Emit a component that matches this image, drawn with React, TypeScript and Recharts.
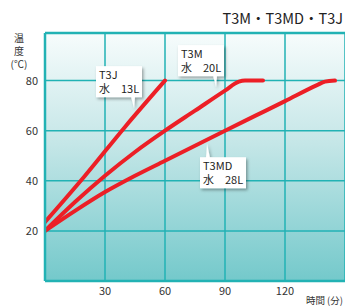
import { LineChart, Line, XAxis, YAxis, CartesianGrid, ReferenceDot, ReferenceLine } from "recharts";

const t3j = [
  { t: 0, v: 23.5 },
  { t: 20, v: 42 },
  { t: 40, v: 61.5 },
  { t: 60, v: 80 },
];
const t3m = [
  { t: 0, v: 20 },
  { t: 15, v: 31.5 },
  { t: 30, v: 42 },
  { t: 45, v: 51.5 },
  { t: 60, v: 60 },
  { t: 75, v: 68 },
  { t: 90, v: 76 },
  { t: 97, v: 79.6 },
  { t: 100, v: 80 },
  { t: 109, v: 80 },
];
const t3md = [
  { t: 0, v: 20 },
  { t: 15, v: 28 },
  { t: 30, v: 35.5 },
  { t: 45, v: 42 },
  { t: 60, v: 48 },
  { t: 75, v: 54 },
  { t: 90, v: 60 },
  { t: 105, v: 65.9 },
  { t: 120, v: 71.8 },
  { t: 136, v: 78.2 },
  { t: 140, v: 79.6 },
  { t: 145, v: 80 },
];
const xTicks = [30, 60, 90, 120];
const yTicks = [20, 40, 60, 80];

const callouts = [
  { t: 44.5, v: 69, name: "T3J", cap: "水　13L", below: false },
  { t: 85.5, v: 77.4, name: "T3M", cap: "水　20L", below: false },
  { t: 81, v: 55, name: "T3MD", cap: "水　28L", below: true },
];
const yLabel = ["温", "度", "(℃)"];

const RED = "#ec1f26";
const TEAL = "#22b2b4";
const FONT = "'Noto Sans CJK JP', 'Noto Sans', sans-serif";

function Callout(props: { cx?: number; cy?: number; name: string; cap: string; below: boolean }) {
  const { cx = 0, cy = 0, name, cap, below } = props;
  // box relative to the tail tip
  const x = below ? cx - 7 : cx - 38;
  const y = below ? cy + 14 : cy - 42;
  const w = 46;
  const h = 31;
  const tail = below
    ? `M${cx - 1},${y + 1} L${cx},${cy} L${cx + 3},${y + 1} Z`
    : `M${cx - 3},${y + h - 1} L${cx},${cy} L${cx + 1},${y + h - 1} Z`;
  return (
    <g>
      <g filter="url(#shadow)">
        <rect x={x} y={y} width={w} height={h} fill="#fff" />
        <path d={tail} fill="#fff" />
      </g>
      <text x={x + 3} y={y + 13} fontSize={11} fill="#222" fontFamily={FONT}>
        {name}
      </text>
      <text x={x + 3} y={y + 27} fontSize={11} fill="#222" fontFamily={FONT}>
        {cap}
      </text>
    </g>
  );
}

export default function App() {
  return (
    <div style={{ position: "absolute", left: 0, top: 0, width: 345, height: 306, background: "#fff", fontFamily: FONT }}>
      <LineChart width={345} height={306} margin={{ top: 33, right: 0, left: 0, bottom: 0 }}>
        <defs>
          <linearGradient id="bg" x1="0" y1="0" x2="0" y2="1">
            <stop offset="0%" stopColor="#f7fcfc" />
            <stop offset="45%" stopColor="#c4e6e7" />
            <stop offset="100%" stopColor="#74c9cb" />
          </linearGradient>
          <filter id="shadow" x="-30%" y="-30%" width="160%" height="170%">
            <feDropShadow dx="1.5" dy="2" stdDeviation="1.8" floodColor="#000" floodOpacity="0.35" />
          </filter>
        </defs>
        <CartesianGrid fill="url(#bg)" stroke={TEAL} strokeWidth={1.5} fillOpacity={1} />
        <XAxis
          type="number"
          dataKey="t"
          domain={[0, 150]}
          ticks={xTicks}
          height={25}
          tickLine={false}
          axisLine={{ stroke: TEAL, strokeWidth: 2.5 }}
          tick={{ fontSize: 11, fill: "#333", fontFamily: FONT }}
          tickMargin={0}
          allowDataOverflow
        />
        <YAxis
          type="number"
          domain={[0, 99]}
          ticks={yTicks}
          width={45}
          tickLine={false}
          axisLine={{ stroke: TEAL, strokeWidth: 2.5 }}
          tick={{ fontSize: 11, fill: "#333", fontFamily: FONT }}
          tickMargin={1}
          allowDataOverflow
        />
        <ReferenceLine y={99} stroke={TEAL} strokeWidth={2.5} />
        <Line data={t3md} dataKey="v" type="monotone" stroke={RED} strokeWidth={4} strokeLinecap="round" dot={false} isAnimationActive={false} />
        <Line data={t3m} dataKey="v" type="monotone" stroke={RED} strokeWidth={4} strokeLinecap="round" dot={false} isAnimationActive={false} />
        <Line data={t3j} dataKey="v" type="monotone" stroke={RED} strokeWidth={4} strokeLinecap="round" dot={false} isAnimationActive={false} />
        {callouts.map((c) => (
          <ReferenceDot
            key={c.name}
            x={c.t}
            y={c.v}
            r={0}
            shape={(p: any) => <Callout cx={p.cx} cy={p.cy} name={c.name} cap={c.cap} below={c.below} />}
          />
        ))}
      </LineChart>
      <div style={{ position: "absolute", right: 2, top: 9, fontSize: 14.5, lineHeight: "18px", color: "#222" }}>T3M・T3MD・T3J</div>
      {yLabel.map((s, i) => (
        <div
          key={s}
          style={{ position: "absolute", left: 6, top: 31 + i * 13, width: 26, textAlign: "center", fontSize: 10, lineHeight: "13px", color: "#333" }}
        >
          {s}
        </div>
      ))}
      <div style={{ position: "absolute", right: 2, top: 294, fontSize: 9.5, lineHeight: "12px", color: "#333" }}>時間 (分)</div>
    </div>
  );
}
